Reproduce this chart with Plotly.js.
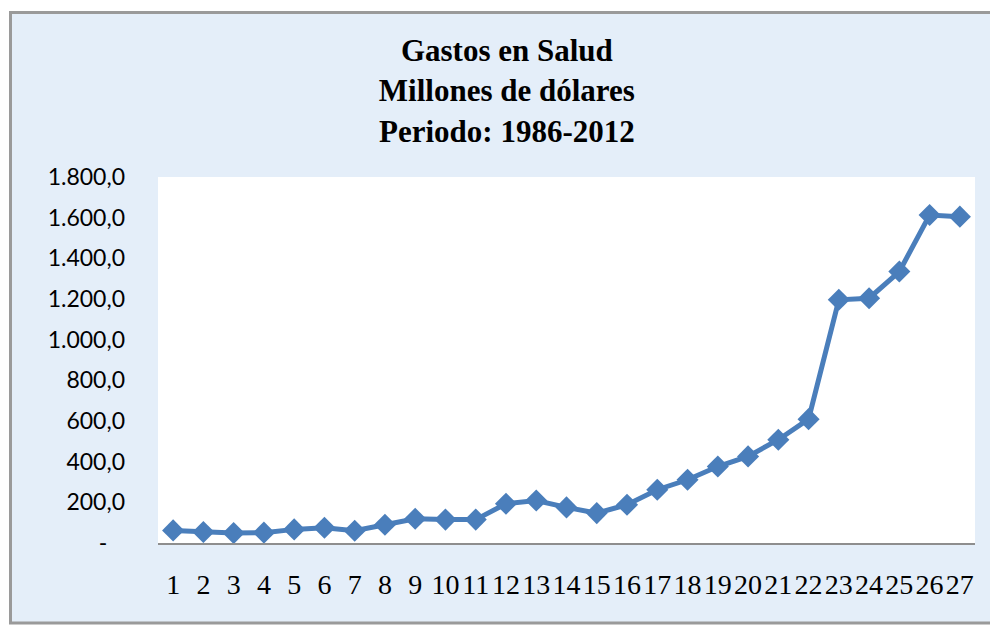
<!DOCTYPE html>
<html>
<head>
<meta charset="utf-8">
<script src="https://cdn.plot.ly/plotly-3.0.1.min.js"></script>
<style>
  html, body { margin: 0; padding: 0; background: #ffffff; }
  #chart { width: 990px; height: 628px; }
</style>
</head>
<body>
<div id="chart"></div>
<script>
// Category labels (periods 1..27 = 1986..2012)
const categories = ['1','2','3','4','5','6','7','8','9','10','11','12','13','14','15','16','17','18','19','20','21','22','23','24','25','26','27'];
// Health spending, millions of dollars
const gastos = [62, 54, 49, 51, 67, 75, 60, 90, 119, 115, 115, 193, 209, 175, 147, 188, 262, 311, 376, 426, 508, 609, 1196, 1204, 1335, 1613, 1605];
// Y axis ticks
const yTickVals = [0, 200, 400, 600, 800, 1000, 1200, 1400, 1600, 1800];
const yTickText = ['-\u00a0\u00a0\u00a0', '200,0', '400,0', '600,0', '800,0', '1.000,0', '1.200,0', '1.400,0', '1.600,0', '1.800,0'];
const titleLines = ['Gastos en Salud', 'Millones de dólares', 'Periodo: 1986-2012'];

const trace = {
  x: categories,
  y: gastos,
  type: 'scatter',
  mode: 'lines+markers',
  line: { color: '#4A7EBB', width: 5 },
  marker: { symbol: 'diamond', size: 17, color: '#4A7EBB' },
  hoverinfo: 'none'
};

const layout = {
  width: 990,
  height: 628,
  margin: { l: 158, r: 15, t: 177, b: 85, pad: 0 },
  paper_bgcolor: '#ffffff',
  plot_bgcolor: '#ffffff',
  showlegend: false,
  title: {
    text: titleLines.join('<br>'),
    x: 0.512,
    xanchor: 'center',
    xref: 'container',
    y: 1 - 61 / 628,
    yanchor: 'top',
    yref: 'container',
    font: { family: 'Liberation Serif', size: 31, color: '#000000', weight: 'bold' }
  },
  xaxis: {
    type: 'category',
    range: [-0.5, 26.5],
    tickmode: 'array',
    tickvals: categories,
    ticktext: categories,
    tickangle: 0,
    showgrid: false,
    zeroline: false,
    showline: true,
    linecolor: '#8e8e8e',
    linewidth: 2,
    ticks: '',
    ticklabelstandoff: 15,
    tickfont: { family: 'Liberation Serif', size: 28, color: '#000000' },
    fixedrange: true
  },
  yaxis: {
    range: [0, 1800],
    tickvals: yTickVals,
    ticktext: yTickText,
    showgrid: false,
    zeroline: false,
    showline: false,
    ticks: '',
    ticklabelstandoff: 32,
    tickfont: { family: 'Lato', size: 23, color: '#000000' },
    fixedrange: true
  },
  shapes: [
    {
      type: 'rect', xref: 'paper', yref: 'paper', layer: 'below',
      x0: (10.5 - 158) / 817, x1: 1.05,
      y0: (543 - 623) / 366, y1: (543 - 12.5) / 366,
      fillcolor: '#E4EEF9',
      line: { color: '#9a9a9a', width: 3 }
    },
    {
      type: 'rect', xref: 'paper', yref: 'paper', layer: 'below',
      x0: 0, x1: 1, y0: 0, y1: 1,
      fillcolor: '#ffffff',
      line: { width: 0 }
    }
  ]
};

Plotly.newPlot('chart', [trace], layout, { staticPlot: true, displayModeBar: false });
</script>
</body>
</html>
